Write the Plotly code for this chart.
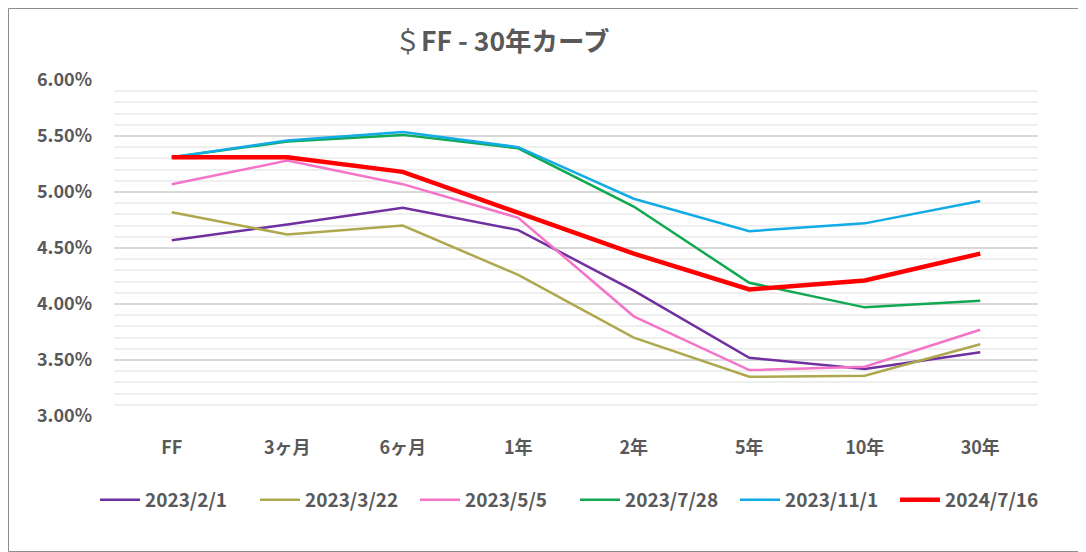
import plotly.graph_objects as go

tenors = ["FF", "3ヶ月", "6ヶ月", "1年", "2年", "5年", "10年", "30年"]

# yields in %
r_2023_02_01 = [4.57, 4.71, 4.86, 4.66, 4.12, 3.52, 3.42, 3.57]
r_2023_03_22 = [4.82, 4.62, 4.70, 4.26, 3.70, 3.35, 3.36, 3.64]
r_2023_05_05 = [5.07, 5.28, 5.07, 4.77, 3.89, 3.41, 3.44, 3.77]
r_2023_07_28 = [5.31, 5.45, 5.51, 5.39, 4.87, 4.19, 3.97, 4.03]
r_2023_11_01 = [5.31, 5.46, 5.535, 5.40, 4.94, 4.65, 4.72, 4.92]
r_2024_07_16 = [5.31, 5.31, 5.18, 4.82, 4.45, 4.13, 4.21, 4.45]

series = [
    ("2023/2/1", r_2023_02_01, "#7030A0", 2.5),
    ("2023/3/22", r_2023_03_22, "#ADA84E", 2.5),
    ("2023/5/5", r_2023_05_05, "#F474C8", 2.5),
    ("2023/7/28", r_2023_07_28, "#10A850", 2.5),
    ("2023/11/1", r_2023_11_01, "#12ABE6", 2.5),
    ("2024/7/16", r_2024_07_16, "#FF0000", 4.5),
]

# page body has an 8px margin, so the figure is laid out 8px in
OFF = 8
W, H = 1086 - OFF, 552 - OFF
ML, MT = 114 - OFF, 80 - OFF
PW, PH = 924, 336
MR, MB = W - ML - PW, H - MT - PH

fig = go.Figure()
for name, vals, color, width in series:
    fig.add_trace(go.Scatter(
        x=tenors, y=[v / 100 for v in vals], name=name, mode="lines",
        line=dict(color=color, width=width),
    ))

font = dict(family="Noto Sans CJK JP, Noto Sans, sans-serif", color="#595959")

fig.update_layout(
    width=W, height=H,
    margin=dict(l=ML, r=MR, t=MT, b=MB),
    paper_bgcolor="white", plot_bgcolor="white",
    font=font,
    title=dict(
        text="＄<b>FF - 30年カーブ</b>",
        x=(502 - OFF) / W, xref="container", xanchor="center",
        y=1 - (42 - OFF) / H, yref="container", yanchor="middle",
        font=dict(size=26.5, **font),
    ),
    xaxis=dict(
        range=[-0.5, len(tenors) - 0.5],
        showgrid=False, zeroline=False, showline=False, ticks="",
        tickfont=dict(size=18, weight="bold", **font),
        ticklabelstandoff=19,
    ),
    yaxis=dict(
        range=[0.03, 0.06], dtick=0.005, tickformat=".2%",
        gridcolor="#d9d9d9", gridwidth=1.5, zeroline=False, showline=False,
        tickfont=dict(size=18, weight="bold", **font),
        ticklabelstandoff=21,
        minor=dict(dtick=0.001, showgrid=True, gridcolor="#efefef", gridwidth=1.5),
    ),
    legend=dict(
        orientation="h", x=(95 - OFF - ML) / PW, xanchor="left",
        y=-84 / PH, yanchor="middle",
        font=dict(size=19, weight="bold", **font),
        itemwidth=40, entrywidth=105,
    ),
    shapes=[dict(
        type="rect", xref="paper", yref="paper",
        x0=(-ML + 0.5) / PW, x1=1 + (MR - 0.5) / PW,
        y0=(-MB + 0.5) / PH, y1=1 + (MT - 0.5) / PH,
        line=dict(color="#8c8c8c", width=1),
    )],
)

fig.write_html("out.html")
